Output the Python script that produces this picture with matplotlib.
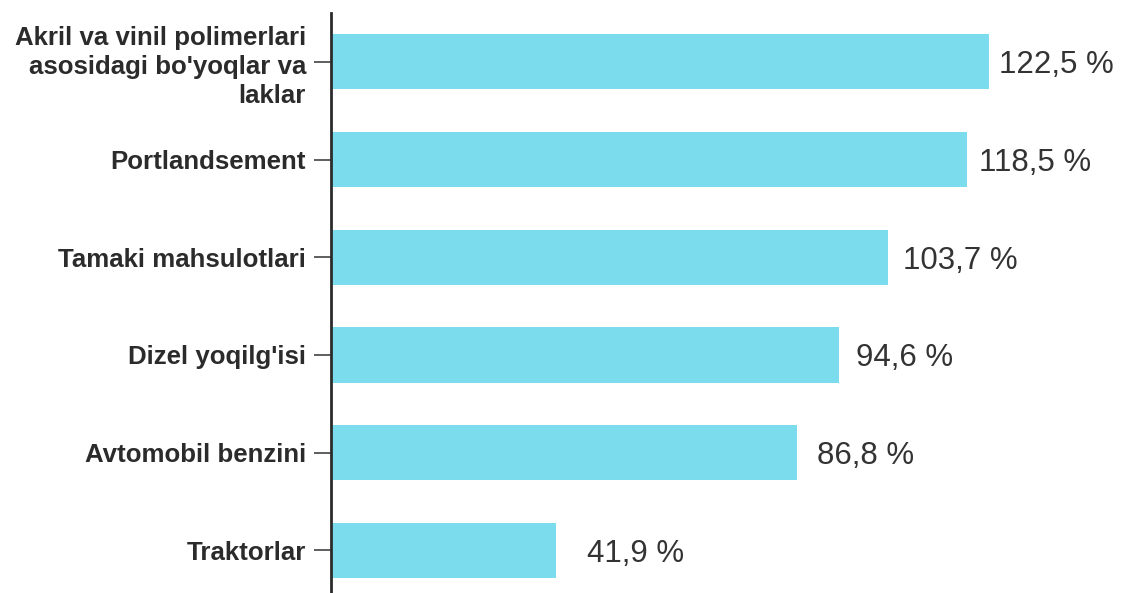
import matplotlib
matplotlib.use("Agg")
import matplotlib.pyplot as plt

categories = [
    "Akril va vinil polimerlari\nasosidagi bo'yoqlar va\nlaklar",
    "Portlandsement",
    "Tamaki mahsulotlari",
    "Dizel yoqilg'isi",
    "Avtomobil benzini",
    "Traktorlar",
]
values = [122.5, 118.5, 103.7, 94.6, 86.8, 41.9]
value_labels = ["122,5 %", "118,5 %", "103,7 %", "94,6 %", "86,8 %", "41,9 %"]

plt.rcParams['font.family'] = ['Liberation Sans', 'DejaVu Sans']

fig = plt.figure(figsize=(11.23, 5.93), dpi=100)
ax = fig.add_axes([0.2947, -0.0105, 0.7053, 0.9885])

y = list(range(len(values)))
ax.barh(y, values, height=0.565, color="#7adcec")
ax.set_ylim(len(values) - 0.5, -0.5)
ax.set_xlim(0, 147.5)

for yi, v, lab in zip(y, values, value_labels):
    ax.text(v * 0.951 + 7.9, yi, lab, va="center_baseline", ha="left",
            fontsize=22.5, color="#333333")

ax.set_yticks(y)
ax.set_yticklabels(categories, fontsize=18.6, fontweight="bold", color="#2b2b2b",
                   linespacing=1.27)
ax.tick_params(axis="y", length=12, width=1.1, color="#333333", pad=6)
ax.set_xticks([])
for s in ["top", "right", "bottom"]:
    ax.spines[s].set_visible(False)
ax.spines["left"].set_linewidth(2)
ax.spines["left"].set_color("#2b2b2b")

fig.savefig("out.png", dpi=100)
